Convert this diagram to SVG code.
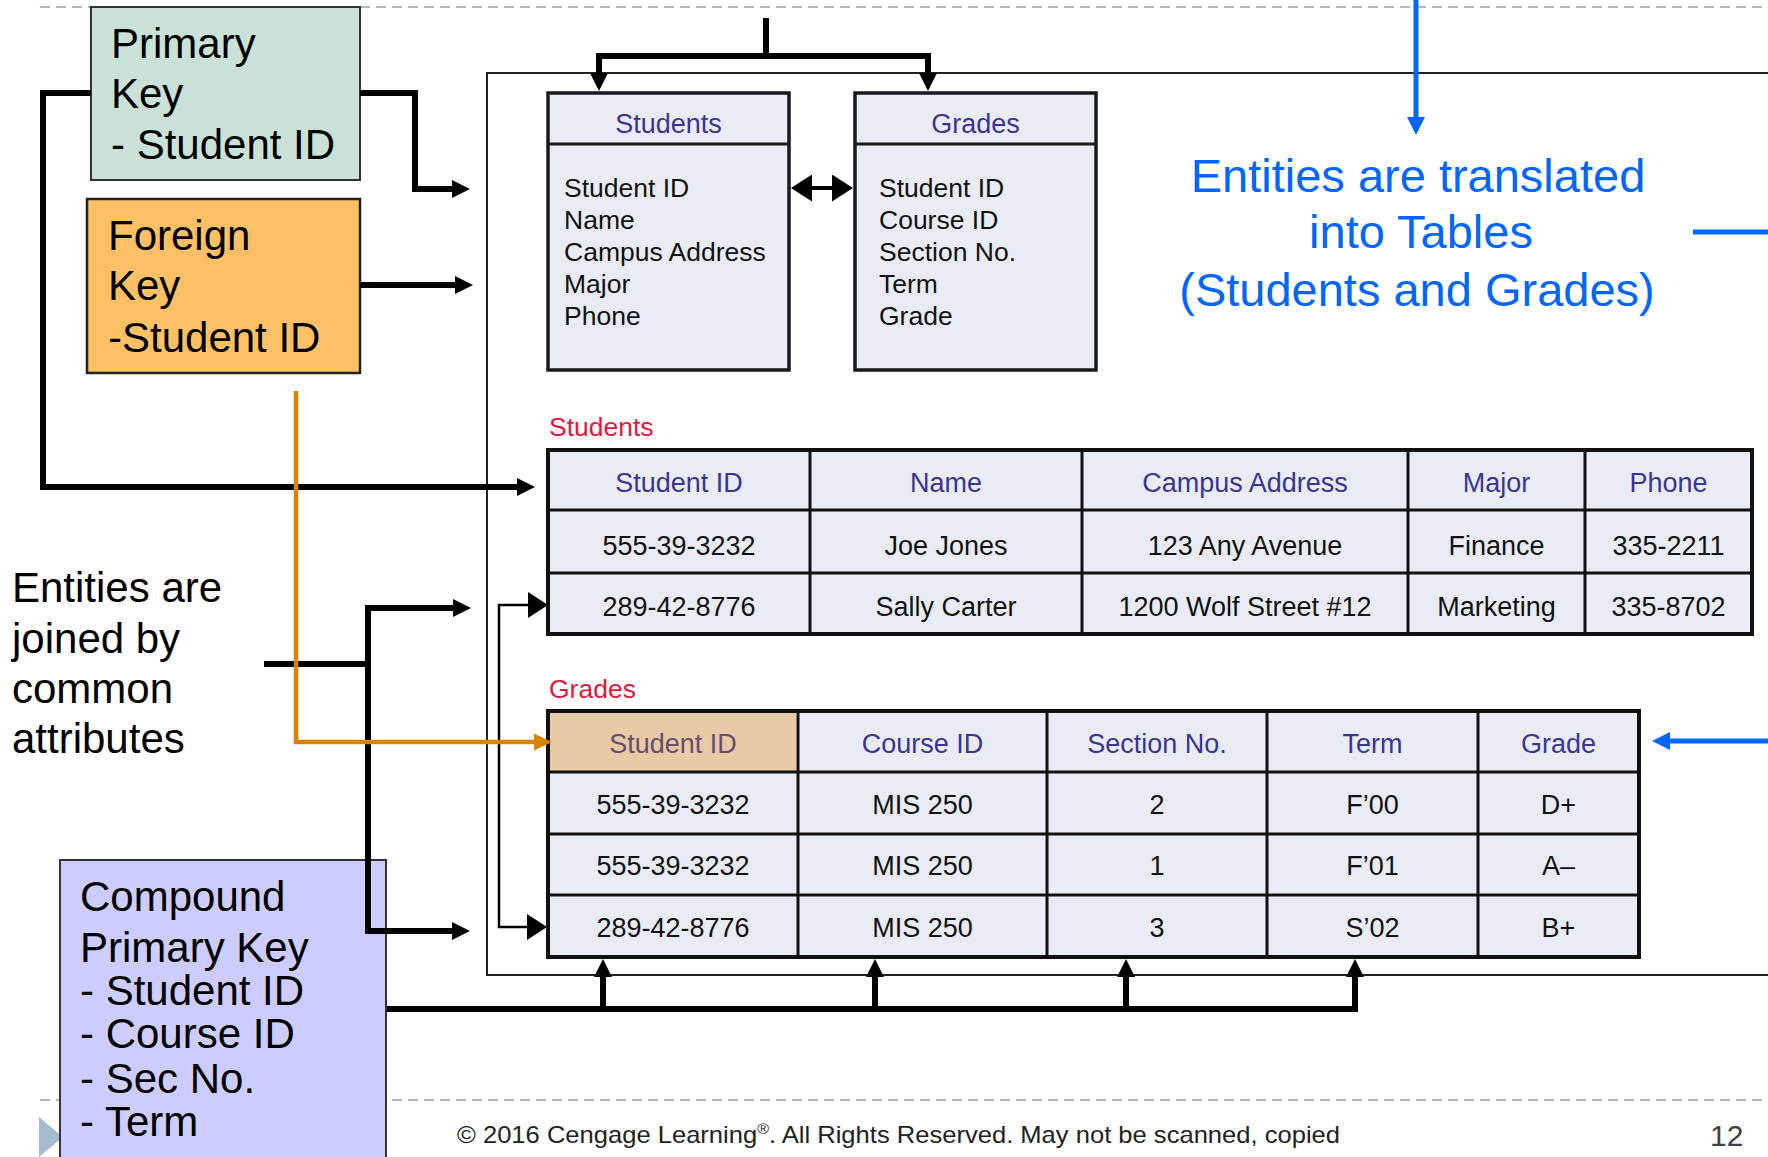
<svg xmlns="http://www.w3.org/2000/svg" width="1768" height="1157" viewBox="0 0 1768 1157">
<defs>
<style>
text{font-family:"Liberation Sans",Arial,sans-serif}
.big{font-size:42px;fill:#000}
.blue{font-size:47px;fill:#0066ff}
.cell{font-size:27px;fill:#111;text-anchor:middle}
.hdr{font-size:27px;fill:#3a3593;text-anchor:middle}
.body{font-size:26.5px;fill:#111}
.red{font-size:26.5px;fill:#e3173e}
.tbl{fill:#e9ecf5;stroke:#111;stroke-width:4}
.grid{stroke:#111;stroke-width:3}
.dash{stroke:#a6bbcf;stroke-width:2;stroke-dasharray:10 6}
.conn{fill:none;stroke:#000;stroke-width:6;stroke-linejoin:miter}
.thin{fill:none;stroke:#000;stroke-width:2.5}
</style>
<marker id="mb" markerUnits="userSpaceOnUse" markerWidth="18" markerHeight="18" refX="8" refY="9" orient="auto-start-reverse"><path d="M0,0 L18,9 L0,18 z" fill="#000"/></marker>
<marker id="mt" markerUnits="userSpaceOnUse" markerWidth="20" markerHeight="26" refX="6" refY="13" orient="auto-start-reverse"><path d="M0,0 L20,13 L0,26 z" fill="#000"/></marker>
<marker id="md" markerUnits="userSpaceOnUse" markerWidth="21" markerHeight="27" refX="6" refY="13.5" orient="auto-start-reverse"><path d="M0,0 L21,13.5 L0,27 z" fill="#000"/></marker>
<marker id="mo" markerUnits="userSpaceOnUse" markerWidth="18" markerHeight="17" refX="8" refY="8.5" orient="auto"><path d="M0,0 L18,8.5 L0,17 z" fill="#d98200"/></marker>
<marker id="mu" markerUnits="userSpaceOnUse" markerWidth="18" markerHeight="18" refX="8" refY="9" orient="auto"><path d="M0,0 L18,9 L0,18 z" fill="#0066ff"/></marker>
</defs>
<rect width="1768" height="1157" fill="#fff"/>

<g id="slide-frame">
<line class="dash" x1="40" y1="7" x2="1768" y2="7"/>
<line class="dash" x1="40" y1="1100" x2="1768" y2="1100"/>
<polygon points="39,1117 63,1137 39,1157" fill="#a6bbcf"/>
<rect x="487" y="73" width="1320" height="902" fill="none" stroke="#222" stroke-width="2"/>
</g>

<g id="students-entity">
<rect x="548" y="93" width="241" height="277" fill="#e9ecf5" stroke="#1a1a1a" stroke-width="3.5"/>
<line x1="548" y1="144" x2="789" y2="144" stroke="#1a1a1a" stroke-width="3"/>
<text class="hdr" x="668.5" y="133">Students</text>
<text class="body" x="564" y="197">Student ID</text>
<text class="body" x="564" y="229">Name</text>
<text class="body" x="564" y="261">Campus Address</text>
<text class="body" x="564" y="293">Major</text>
<text class="body" x="564" y="325">Phone</text>
</g>

<g id="grades-entity">
<rect x="855" y="93" width="241" height="277" fill="#e9ecf5" stroke="#1a1a1a" stroke-width="3.5"/>
<line x1="855" y1="144" x2="1096" y2="144" stroke="#1a1a1a" stroke-width="3"/>
<text class="hdr" x="975.5" y="133">Grades</text>
<text class="body" x="879" y="197">Student ID</text>
<text class="body" x="879" y="229">Course ID</text>
<text class="body" x="879" y="261">Section No.</text>
<text class="body" x="879" y="293">Term</text>
<text class="body" x="879" y="325">Grade</text>
</g>

<g id="students-table">
<text class="red" x="549" y="436">Students</text>
<rect class="tbl" x="548" y="450" width="1204" height="184"/>
<line class="grid" x1="548" y1="510" x2="1752" y2="510"/>
<line class="grid" x1="548" y1="573" x2="1752" y2="573"/>
<line class="grid" x1="810" y1="450" x2="810" y2="634"/>
<line class="grid" x1="1082" y1="450" x2="1082" y2="634"/>
<line class="grid" x1="1408" y1="450" x2="1408" y2="634"/>
<line class="grid" x1="1585" y1="450" x2="1585" y2="634"/>
<text class="hdr" x="679" y="492">Student ID</text>
<text class="hdr" x="946" y="492">Name</text>
<text class="hdr" x="1245" y="492">Campus Address</text>
<text class="hdr" x="1496.5" y="492">Major</text>
<text class="hdr" x="1668.5" y="492">Phone</text>
<text class="cell" x="679" y="555">555-39-3232</text>
<text class="cell" x="946" y="555">Joe Jones</text>
<text class="cell" x="1245" y="555">123 Any Avenue</text>
<text class="cell" x="1496.5" y="555">Finance</text>
<text class="cell" x="1668.5" y="555">335-2211</text>
<text class="cell" x="679" y="616">289-42-8776</text>
<text class="cell" x="946" y="616">Sally Carter</text>
<text class="cell" x="1245" y="616">1200 Wolf Street #12</text>
<text class="cell" x="1496.5" y="616">Marketing</text>
<text class="cell" x="1668.5" y="616">335-8702</text>
</g>

<g id="grades-table">
<text class="red" x="549" y="698">Grades</text>
<rect class="tbl" x="548" y="711" width="1091" height="246"/>
<rect x="550" y="713" width="246" height="59" fill="#e6cba6"/>
<line class="grid" x1="548" y1="772" x2="1639" y2="772"/>
<line class="grid" x1="548" y1="834" x2="1639" y2="834"/>
<line class="grid" x1="548" y1="895" x2="1639" y2="895"/>
<line class="grid" x1="798" y1="711" x2="798" y2="957"/>
<line class="grid" x1="1047" y1="711" x2="1047" y2="957"/>
<line class="grid" x1="1267" y1="711" x2="1267" y2="957"/>
<line class="grid" x1="1478" y1="711" x2="1478" y2="957"/>
<text class="hdr" x="673" y="753" style="fill:#6b4c6e">Student ID</text>
<text class="hdr" x="922.5" y="753">Course ID</text>
<text class="hdr" x="1157" y="753">Section No.</text>
<text class="hdr" x="1372.5" y="753">Term</text>
<text class="hdr" x="1558.5" y="753">Grade</text>
<text class="cell" x="673" y="814">555-39-3232</text>
<text class="cell" x="922.5" y="814">MIS 250</text>
<text class="cell" x="1157" y="814">2</text>
<text class="cell" x="1372.5" y="814">F’00</text>
<text class="cell" x="1558.5" y="814">D+</text>
<text class="cell" x="673" y="875">555-39-3232</text>
<text class="cell" x="922.5" y="875">MIS 250</text>
<text class="cell" x="1157" y="875">1</text>
<text class="cell" x="1372.5" y="875">F’01</text>
<text class="cell" x="1558.5" y="875">A–</text>
<text class="cell" x="673" y="937">289-42-8776</text>
<text class="cell" x="922.5" y="937">MIS 250</text>
<text class="cell" x="1157" y="937">3</text>
<text class="cell" x="1372.5" y="937">S’02</text>
<text class="cell" x="1558.5" y="937">B+</text>
</g>

<g id="primary-key">
<rect x="91" y="7" width="269" height="173" fill="#c9e1d6" stroke="#333" stroke-width="2"/>
<text class="big" x="111" y="58">Primary</text>
<text class="big" x="111" y="108">Key</text>
<text class="big" x="111" y="159">- Student ID</text>
</g>

<g id="foreign-key">
<rect x="87" y="199" width="273" height="174" fill="#fec064" stroke="#222" stroke-width="2.5"/>
<text class="big" x="108" y="250">Foreign</text>
<text class="big" x="108" y="300">Key</text>
<text class="big" x="108" y="352">-Student ID</text>
</g>

<g id="compound-key">
<rect x="60" y="860" width="326" height="310" fill="#ccccff" stroke="#333" stroke-width="2"/>
<text class="big" x="80" y="911">Compound</text>
<text class="big" x="80" y="962">Primary Key</text>
<text class="big" x="80" y="1005">- Student ID</text>
<text class="big" x="80" y="1048">- Course ID</text>
<text class="big" x="80" y="1093">- Sec No.</text>
<text class="big" x="80" y="1136">- Term</text>
</g>

<g id="note-joined">
<text class="big" x="12" y="602">Entities are</text>
<text class="big" x="12" y="653">joined by</text>
<text class="big" x="12" y="703">common</text>
<text class="big" x="12" y="753">attributes</text>
</g>

<g id="note-translated">
<text class="blue" x="1418" y="192" text-anchor="middle">Entities are translated</text>
<text class="blue" x="1421" y="248" text-anchor="middle">into Tables</text>
<text class="blue" x="1417" y="306" text-anchor="middle">(Students and Grades)</text>
</g>

<g id="connectors">
<path class="conn" d="M91,93 H43 V487 H525" marker-end="url(#mb)"/>
<path class="conn" d="M360,93 H415 V189 H460" marker-end="url(#mb)"/>
<path class="conn" d="M360,285 H463" marker-end="url(#mb)"/>
<path class="conn" d="M766,18 V56"/>
<path class="conn" d="M599,81 V56 H928 V81" marker-start="url(#mb)" marker-end="url(#mb)"/>
<path class="conn" d="M806,188 H838" style="stroke-width:4" marker-start="url(#md)" marker-end="url(#md)"/>
<path class="conn" d="M264,664 H368"/>
<path class="conn" d="M461,608 H368 V931 H460" marker-start="url(#mb)" marker-end="url(#mb)"/>
<path class="thin" d="M534,605 H499 V927 H533" marker-start="url(#mt)" marker-end="url(#mt)"/>
<path class="conn" d="M387,1009 H1355 V969" marker-end="url(#mb)"/>
<path class="conn" d="M603,1009 V969" marker-end="url(#mb)"/>
<path class="conn" d="M875,1009 V969" marker-end="url(#mb)"/>
<path class="conn" d="M1126,1009 V969" marker-end="url(#mb)"/>
<path fill="none" stroke="#d98200" stroke-width="4.5" d="M296,391 V742 H542" marker-end="url(#mo)"/>
<path fill="none" stroke="#0066ff" stroke-width="5" d="M1416,0 V125" marker-end="url(#mu)"/>
<path fill="none" stroke="#0066ff" stroke-width="5" d="M1693,232 H1768"/>
<path fill="none" stroke="#0066ff" stroke-width="5" d="M1768,741 H1662" marker-end="url(#mu)"/>
</g>

<g id="footer">
<text x="457" y="1143" font-size="24" fill="#222" textLength="883" lengthAdjust="spacingAndGlyphs">© 2016 Cengage Learning<tspan font-size="15" dy="-9">®</tspan><tspan dy="9">. All Rights Reserved. May not be scanned, copied</tspan></text>
<text x="1710" y="1146" font-size="30" fill="#404040">12</text>
</g>
</svg>
